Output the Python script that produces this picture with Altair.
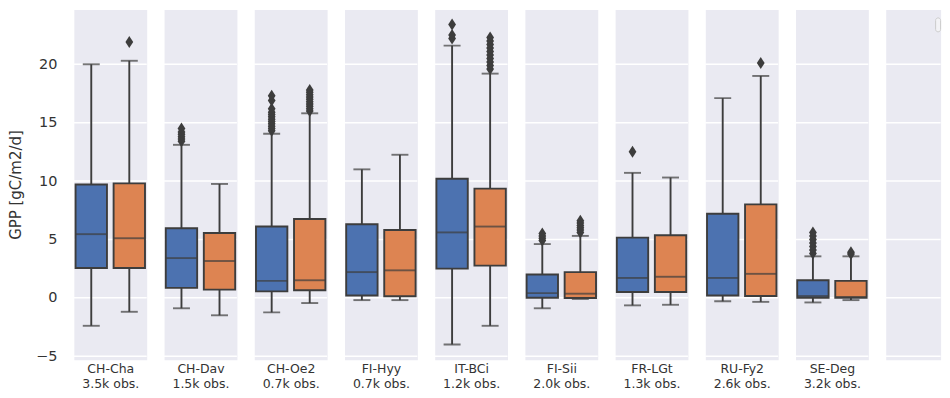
import altair as alt
import pandas as pd

sites = ["CH-Cha", "CH-Dav", "CH-Oe2", "FI-Hyy", "IT-BCi", "FI-Sii", "FR-LGt", "RU-Fy2", "SE-Deg"]
obs = ["3.5k obs.", "1.5k obs.", "0.7k obs.", "0.7k obs.", "1.2k obs.", "2.0k obs.", "1.3k obs.", "2.6k obs.", "3.2k obs."]
series = ["series 1", "series 2"]
colors = ["#4c72b0", "#dd8452"]

# series 1 (blue) box statistics
s1_lo = [-2.4, -0.9, -1.25, -0.2, -4.0, -0.9, -0.65, -0.3, -0.4]
s1_q1 = [2.55, 0.85, 0.55, 0.2, 2.5, 0.0, 0.5, 0.2, 0.0]
s1_med = [5.45, 3.4, 1.45, 2.2, 5.6, 0.4, 1.7, 1.7, 0.15]
s1_q3 = [9.7, 5.95, 6.1, 6.3, 10.2, 2.0, 5.15, 7.2, 1.5]
s1_hi = [20.0, 13.1, 14.05, 11.0, 21.6, 4.6, 10.7, 17.1, 3.55]
s1_out = [
    [],
    [13.4, 13.6, 13.8, 14.0, 14.2, 14.5],
    [14.3, 14.5, 14.7, 14.9, 15.1, 15.3, 15.5, 15.7, 15.9, 16.2, 16.9, 17.3],
    [],
    [22.2, 22.5, 23.4],
    [4.9, 5.1, 5.3, 5.5],
    [12.5],
    [],
    [3.8, 4.1, 4.4, 4.7, 5.0, 5.3, 5.6],
]

# series 2 (orange) box statistics
s2_lo = [-1.2, -1.5, -0.45, -0.2, -2.4, -0.1, -0.6, -0.35, -0.2]
s2_q1 = [2.55, 0.7, 0.65, 0.13, 2.75, -0.02, 0.5, 0.15, 0.0]
s2_med = [5.1, 3.15, 1.5, 2.35, 6.1, 0.35, 1.8, 2.05, 0.07]
s2_q3 = [9.8, 5.55, 6.75, 5.8, 9.35, 2.2, 5.35, 8.0, 1.45]
s2_hi = [20.3, 9.75, 15.8, 12.25, 19.2, 5.3, 10.3, 19.0, 3.55]
s2_out = [
    [21.9],
    [],
    [16.0, 16.2, 16.4, 16.6, 16.8, 17.0, 17.2, 17.4, 17.6, 17.8],
    [],
    [19.6, 19.9, 20.2, 20.5, 20.8, 21.1, 21.4, 21.7, 22.0, 22.3],
    [5.6, 5.8, 6.0, 6.2, 6.4, 6.6],
    [],
    [20.1],
    [3.75, 3.9],
]

y_ticks = [-5, 0, 5, 10, 15, 20]
Y_DOMAIN = [-5.3, 24.7]
LINE = "#3d3d3d"
TEXT = "#333333"
FONT = "DejaVu Sans"
PW, PH = 73, 351

stat_rows, out_rows = [], []
for i, s in enumerate(sites):
    for ser, lo, q1, med, q3, hi, outs in (
        (series[0], s1_lo, s1_q1, s1_med, s1_q3, s1_hi, s1_out),
        (series[1], s2_lo, s2_q1, s2_med, s2_q3, s2_hi, s2_out),
    ):
        stat_rows.append(dict(site=s, series=ser, lo=lo[i], q1=q1[i], med=med[i], q3=q3[i], hi=hi[i]))
        for v in outs[i]:
            out_rows.append(dict(site=s, series=ser, value=v))
stats = pd.DataFrame(stat_rows)
outl = pd.DataFrame(out_rows)
grid_df = pd.DataFrame({"tick": y_ticks})

yscale = alt.Scale(domain=Y_DOMAIN, nice=False, zero=False)
YAXIS = alt.Axis(title="GPP [gC/m2/d]", values=y_ticks, grid=False,
                 ticks=False, domain=False, labelPadding=17, labelFontSize=14.5, labelColor=TEXT,
                 titleFontSize=15, titleFontWeight="normal", titleColor=TEXT, titlePadding=12)


def Y(field, first):
    if first:
        return alt.Y(field, scale=yscale, axis=YAXIS)
    return alt.Y(field, scale=yscale, axis=None)


def grid_layer(first):
    return alt.Chart(grid_df).mark_rule(color="white", strokeWidth=1.5).encode(y=Y("tick:Q", first))


def panel(i):
    s = sites[i]
    f = i == 0
    d = stats[stats.site == s]
    o = outl[outl.site == s]
    xenc = alt.X("series:N",
                 scale=alt.Scale(domain=series, paddingInner=0.175, paddingOuter=0.045),
                 axis=alt.Axis(title=[s, obs[i]], labels=False, ticks=False, domain=False, grid=False,
                               titleFontSize=12.5, titleFontWeight="normal", titleColor=TEXT,
                               titlePadding=3, titleLineHeight=14.5))
    base = alt.Chart(d)
    whisk_lo = base.mark_rule(color=LINE, strokeWidth=1.9).encode(x=xenc, y=Y("lo:Q", f), y2="q1:Q")
    whisk_hi = base.mark_rule(color=LINE, strokeWidth=1.9).encode(x=xenc, y=Y("q3:Q", f), y2="hi:Q")
    box = base.mark_bar(stroke=LINE, strokeWidth=1.9).encode(
        x=xenc, y=Y("q1:Q", f), y2="q3:Q",
        color=alt.Color("series:N", scale=alt.Scale(domain=series, range=colors), legend=None))
    med = base.mark_tick(color=LINE, size=31, thickness=1.9).encode(x=xenc, y=Y("med:Q", f))
    cap_lo = base.mark_tick(color=LINE, size=17, thickness=1.9).encode(x=xenc, y=Y("lo:Q", f))
    cap_hi = base.mark_tick(color=LINE, size=17, thickness=1.9).encode(x=xenc, y=Y("hi:Q", f))
    layers = [grid_layer(f), whisk_lo, whisk_hi, box, med, cap_lo, cap_hi]
    if len(o):
        pts = alt.Chart(o).mark_point(
            shape="M0,-1L0.65,0L0,1L-0.65,0Z", filled=True, color=LINE, opacity=1, size=144
        ).encode(x=xenc, y=Y("value:Q", f))
        layers.append(pts)
    return alt.layer(*layers).properties(width=PW, height=PH)


panels = [panel(i) for i in range(len(sites))]

# empty last panel (cut at the page edge) with the (empty) legend frame
LAST_W = 55
legend_df = pd.DataFrame({"v": [0.0]})
legend_box = alt.Chart(legend_df).mark_rect(
    cornerRadius=3, fill="#f3f3f6", stroke="#cccccc", strokeWidth=1
).encode(x=alt.value(50), x2=alt.value(LAST_W), y=alt.value(8.5), y2=alt.value(22.5))
panels.append(alt.layer(grid_layer(False), legend_box).properties(width=LAST_W, height=PH))

chart = alt.hconcat(*panels, spacing=17.4, bounds="flush").properties(padding=0).configure(
    font=FONT, background="white"
).configure_view(fill="#eaeaf2", stroke="transparent")

chart.save("out.html", embed_options={"renderer": "svg", "actions": False})
